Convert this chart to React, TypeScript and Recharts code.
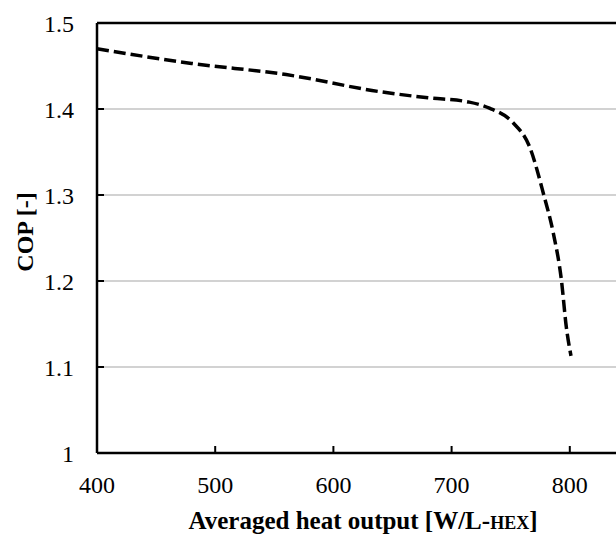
import React from "react";
import { LineChart, Line, XAxis, YAxis, CartesianGrid, ReferenceLine } from "recharts";

const heatOutput = [400, 480, 560, 640, 680, 715, 732, 752, 766, 778, 786, 793, 797, 801];
const cop = [1.47, 1.453, 1.44, 1.42, 1.413, 1.408, 1.401, 1.384, 1.356, 1.3, 1.256, 1.2, 1.147, 1.113];
const xTicks = [400, 500, 600, 700, 800];
const yTicks = [1, 1.1, 1.2, 1.3, 1.4, 1.5];

const data = heatOutput.map((x, i) => ({ x, cop: cop[i] }));

const FONT = "'Times New Roman', 'Liberation Serif', serif";

function XTitle({ viewBox }: any) {
  const cx = viewBox.x + 266;
  return (
    <text x={cx} y={529} textAnchor="middle" style={{ fontFamily: FONT }} fontWeight="bold" fontSize={25} fill="#000">
      Averaged heat output [W/L-<tspan fontSize={18}>HEX</tspan>]
    </text>
  );
}

function YTitle() {
  return (
    <text
      x={0}
      y={0}
      transform="translate(33,232) rotate(-90)"
      textAnchor="middle"
      style={{ fontFamily: FONT }}
      fontWeight="bold"
      fontSize={24}
      fill="#000"
    >
      COP [-]
    </text>
  );
}

export default function App() {
  return (
    <div
      style={{
        position: "fixed",
        left: 0,
        top: 0,
        width: 616,
        height: 538,
        overflow: "hidden",
        background: "#fff",
        fontFamily: FONT,
      }}
    >
      <LineChart
        width={700}
        height={538}
        data={data}
        margin={{ top: 23, right: 12, bottom: 0, left: 0 }}
        style={{ fontFamily: FONT }}
      >
        <CartesianGrid vertical={false} stroke="#a6a6a6" strokeWidth={1.2} />
        <ReferenceLine y={1.5} stroke="#000" strokeWidth={2.5} />
        <XAxis
          type="number"
          dataKey="x"
          domain={[400, 900]}
          ticks={xTicks}
          height={85}
          tickSize={-7}
          tickMargin={30}
          axisLine={{ stroke: "#000", strokeWidth: 2.5 }}
          tickLine={{ stroke: "#000", strokeWidth: 2 }}
          tick={{ fill: "#000", fontSize: 24, style: { fontFamily: FONT } }}
          label={<XTitle />}
        />
        <YAxis
          type="number"
          domain={[1, 1.5]}
          ticks={yTicks}
          width={97}
          tickSize={-7}
          tickMargin={30}
          tickFormatter={(v: number) => (v === 1 ? "1" : v.toFixed(1))}
          axisLine={{ stroke: "#000", strokeWidth: 2.5 }}
          tickLine={{ stroke: "#000", strokeWidth: 2 }}
          tick={{ fill: "#000", fontSize: 24, style: { fontFamily: FONT } }}
          label={<YTitle />}
        />
        <Line
          type="monotone"
          dataKey="cop"
          stroke="#000"
          strokeWidth={3.5}
          strokeDasharray="12 5"
          dot={false}
          isAnimationActive={false}
        />
      </LineChart>
    </div>
  );
}
